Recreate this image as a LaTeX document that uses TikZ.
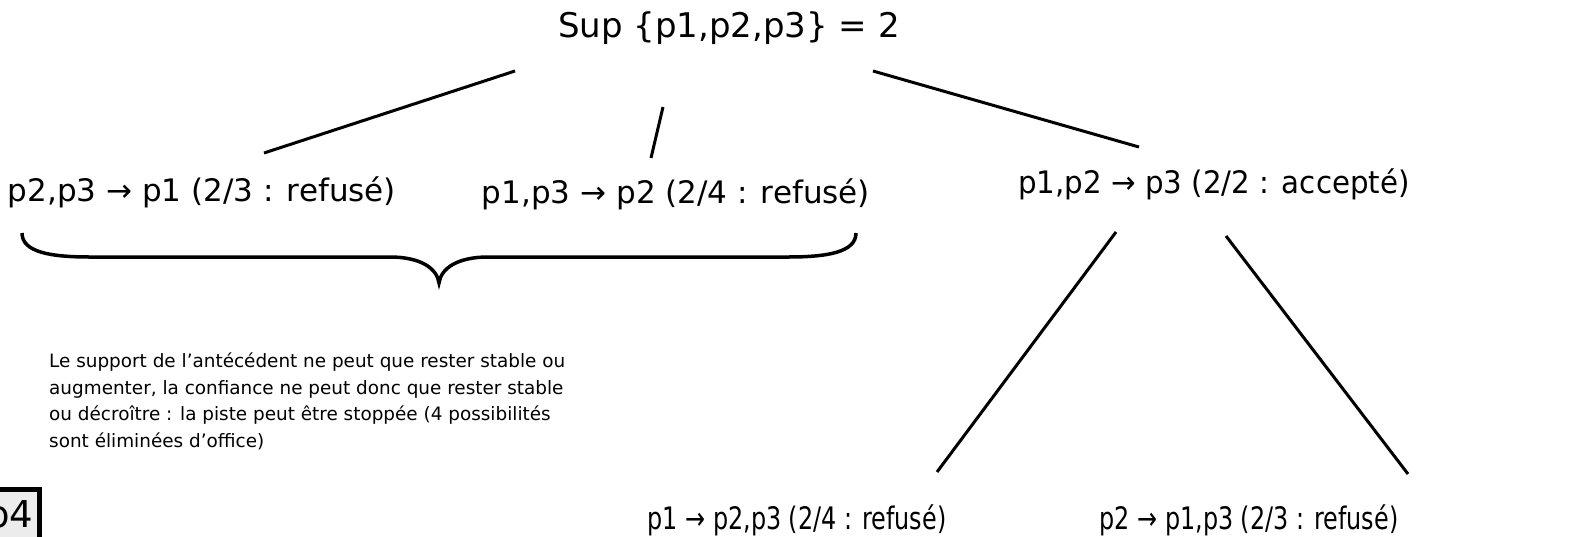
\documentclass[tikz,border=0pt]{standalone}
\usepackage{fontspec}
\setmainfont{DejaVu Sans}
\usepackage{graphicx}
\definecolor{boxgray}{HTML}{ECECEC}

\tikzset{
  regle/.style={anchor=base,inner sep=0pt,font=\fontsize{31}{37}\selectfont},
  trait/.style={line width=3pt},
}

\begin{document}
\begin{tikzpicture}[x=1pt,y=-1pt]
\useasboundingbox (0,0) rectangle (1595,536);

\node[regle,font=\fontsize{34}{40}\selectfont] (sup) at (729,37) {Sup \{p1,p2,p3\} = 2};

\node[regle] (r1) at (202,201) {p2,p3 → p1 (2/3 : refusé)};
\node[regle] (r2) at (676,203) {p1,p3 → p2 (2/4 : refusé)};
\node[regle] (r3) at (1214,193) {\scalebox{0.945}[1]{p1,p2 → p3 (2/2 : accepté)}};

\node[regle] (r4) at (797,529) {\scalebox{0.77}[1]{p1 → p2,p3 (2/4 : refusé)}};
\node[regle] (r5) at (1249,529) {\scalebox{0.77}[1]{p2 → p1,p3 (2/3 : refusé)}};

\node[anchor=base west,inner sep=0pt,align=left,font=\fontsize{18.4}{26.5}\selectfont] (note) at (49,447)
  {Le support de l’antécédent ne peut que rester stable ou\\
   augmenter, la confiance ne peut donc que rester stable\\
   ou décroître : la piste peut être stoppée (4 possibilités\\
   sont éliminées d’office)};

% petits traits de l'arbre
\coordinate (a1) at (515,71);  \coordinate (b1) at (264,153);
\coordinate (a2) at (663,107); \coordinate (b2) at (651,158);
\coordinate (a3) at (873,71);  \coordinate (b3) at (1139,147);
\coordinate (a4) at (1116,232); \coordinate (b4) at (937,472);
\coordinate (a5) at (1226,236); \coordinate (b5) at (1408,474);
\draw[trait] (a1) -- (b1);
\draw[trait] (a2) -- (b2);
\draw[trait] (a3) -- (b3);
\draw[trait] (a4) -- (b4);
\draw[trait] (a5) -- (b5);

% accolade sous r1 et r2
\coordinate (g) at (22,233);
\coordinate (t) at (439,283);
\coordinate (d) at (856,233);
\draw[line width=3.5pt]
  (g) .. controls (22,252) and (50,257) .. (90,257) -- (390,257)
      .. controls (420,257) and (437,268) .. (t)
      .. controls (441,268) and (458,257) .. (488,257) -- (788,257)
      .. controls (828,257) and (856,252) .. (d);

% case p4 coupee
\draw[line width=5pt,fill=boxgray] (-20,489.5) rectangle (39,560);
\node[regle,font=\fontsize{37}{44}\selectfont] (p4) at (10,527) {p4};
\end{tikzpicture}
\end{document}
